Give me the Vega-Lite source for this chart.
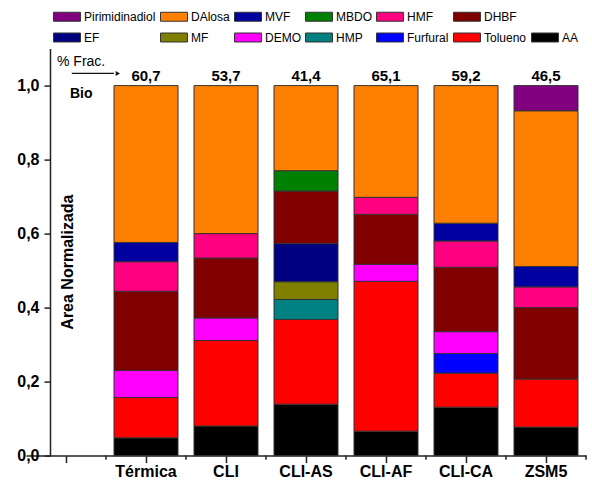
{
  "$schema": "https://vega.github.io/schema/vega-lite/v6.json",
  "width": 536,
  "height": 407,
  "autosize": "none",
  "padding": {"left": 50, "top": 48.6, "right": 6, "bottom": 25.4},
  "config": {
    "view": {"stroke": null},
    "font": "Liberation Sans",
    "axis": {
      "domainColor": "#222", "domainWidth": 1.5, "tickColor": "#222", "tickWidth": 1.5,
      "labelColor": "#000", "labelFont": "Liberation Sans", "labelFontWeight": "bold", "labelFontSize": 16,
      "grid": false, "titleColor": "#000"
    }
  },
  "datasets": {
    "comp": [
      {"cat": "Térmica", "comp": "AA", "area": 0.048},
      {"cat": "Térmica", "comp": "Tolueno", "area": 0.109},
      {"cat": "Térmica", "comp": "DEMO", "area": 0.073},
      {"cat": "Térmica", "comp": "DHBF", "area": 0.214},
      {"cat": "Térmica", "comp": "HMF", "area": 0.080},
      {"cat": "Térmica", "comp": "MVF", "area": 0.052},
      {"cat": "Térmica", "comp": "DAlosa", "area": 0.424},
      {"cat": "CLI", "comp": "AA", "area": 0.080},
      {"cat": "CLI", "comp": "Tolueno", "area": 0.231},
      {"cat": "CLI", "comp": "DEMO", "area": 0.061},
      {"cat": "CLI", "comp": "DHBF", "area": 0.162},
      {"cat": "CLI", "comp": "HMF", "area": 0.066},
      {"cat": "CLI", "comp": "DAlosa", "area": 0.400},
      {"cat": "CLI-AS", "comp": "AA", "area": 0.139},
      {"cat": "CLI-AS", "comp": "Tolueno", "area": 0.229},
      {"cat": "CLI-AS", "comp": "HMP", "area": 0.054},
      {"cat": "CLI-AS", "comp": "MF", "area": 0.048},
      {"cat": "CLI-AS", "comp": "EF", "area": 0.103},
      {"cat": "CLI-AS", "comp": "DHBF", "area": 0.142},
      {"cat": "CLI-AS", "comp": "MBDO", "area": 0.055},
      {"cat": "CLI-AS", "comp": "DAlosa", "area": 0.230},
      {"cat": "CLI-AF", "comp": "AA", "area": 0.066},
      {"cat": "CLI-AF", "comp": "Tolueno", "area": 0.405},
      {"cat": "CLI-AF", "comp": "DEMO", "area": 0.046},
      {"cat": "CLI-AF", "comp": "DHBF", "area": 0.135},
      {"cat": "CLI-AF", "comp": "HMF", "area": 0.046},
      {"cat": "CLI-AF", "comp": "DAlosa", "area": 0.302},
      {"cat": "CLI-CA", "comp": "AA", "area": 0.131},
      {"cat": "CLI-CA", "comp": "Tolueno", "area": 0.092},
      {"cat": "CLI-CA", "comp": "Furfural", "area": 0.053},
      {"cat": "CLI-CA", "comp": "DEMO", "area": 0.059},
      {"cat": "CLI-CA", "comp": "DHBF", "area": 0.174},
      {"cat": "CLI-CA", "comp": "HMF", "area": 0.071},
      {"cat": "CLI-CA", "comp": "MVF", "area": 0.048},
      {"cat": "CLI-CA", "comp": "DAlosa", "area": 0.372},
      {"cat": "ZSM5", "comp": "AA", "area": 0.077},
      {"cat": "ZSM5", "comp": "Tolueno", "area": 0.130},
      {"cat": "ZSM5", "comp": "DHBF", "area": 0.193},
      {"cat": "ZSM5", "comp": "HMF", "area": 0.056},
      {"cat": "ZSM5", "comp": "MVF", "area": 0.055},
      {"cat": "ZSM5", "comp": "DAlosa", "area": 0.421},
      {"cat": "ZSM5", "comp": "Pirimidinadiol", "area": 0.068}
    ],
    "frac": [
      {"cat": "Térmica", "frac": "60,7"},
      {"cat": "CLI", "frac": "53,7"},
      {"cat": "CLI-AS", "frac": "41,4"},
      {"cat": "CLI-AF", "frac": "65,1"},
      {"cat": "CLI-CA", "frac": "59,2"},
      {"cat": "ZSM5", "frac": "46,5"}
    ],
    "notes": [{"frac": "% Frac.", "bio": "Bio"}]
  },
  "layer": [
    {
      "data": {"name": "comp"},
      "transform": [
        {"calculate": "indexof(['AA','Tolueno','Furfural','HMP','DEMO','MF','EF','DHBF','HMF','MBDO','MVF','DAlosa','Pirimidinadiol'], datum.comp)", "as": "stackOrder"}
      ],
      "mark": {"type": "bar", "stroke": "#333", "strokeWidth": 1},
      "encoding": {
        "x": {
          "field": "cat", "type": "nominal",
          "scale": {"domain": ["", "Térmica", "CLI", "CLI-AS", "CLI-AF", "CLI-CA", "ZSM5"], "range": [-24, 536], "paddingInner": 0.2, "paddingOuter": 0.1},
          "axis": {"title": null, "labelAngle": 0, "tickSize": 7, "labelPadding": 1}
        },
        "y": {
          "field": "area", "type": "quantitative", "stack": "zero",
          "scale": {"domain": [0, 1.1], "nice": false},
          "axis": {
            "values": [0, 0.1, 0.2, 0.3, 0.4, 0.5, 0.6, 0.7, 0.8, 0.9, 1.0, 1.1],
            "labelExpr": "round(datum.value*10) % 2 == 0 ? replace(format(datum.value, '.1f'), '.', ',') : ''",
            "tickSize": {"condition": {"test": "round(datum.value*10) % 2 == 1", "value": 3}, "value": 6},
            "labelPadding": 5,
            "title": "Area Normalizada", "titleFontSize": 16, "titleFontWeight": "bold",
            "titleX": 22, "titleY": 213, "titleAngle": -90, "titleBaseline": "alphabetic", "titleAlign": "center"
          }
        },
        "order": {"field": "stackOrder", "type": "quantitative", "sort": "ascending"},
        "color": {
          "field": "comp", "type": "nominal",
          "scale": {
            "domain": ["Pirimidinadiol", "DAlosa", "MVF", "MBDO", "HMF", "DHBF", " ", "EF", "MF", "DEMO", "HMP", "Furfural", "Tolueno", "AA"],
            "range": ["#800080", "#FF8000", "#0000A0", "#008000", "#FF0080", "#800000", "#ffffff", "#000080", "#808000", "#FF00FF", "#008080", "#0000FF", "#FF0000", "#000000"]
          },
          "legend": {
            "orient": "none", "legendX": 3, "legendY": -46.1,
            "title": null, "direction": "horizontal", "columns": 7, "gridAlign": "each",
            "columnPadding": 2, "rowPadding": -12,
            "symbolType": "M-1,-0.333H1V0.333H-1Z", "symbolSize": 729,
            "symbolStrokeWidth": 1, "symbolStrokeColor": "#333",
            "labelFontSize": 12, "labelFont": "Liberation Sans", "labelColor": "#000", "labelOffset": 3,
            "encode": {"symbols": {"update": {"strokeOpacity": {"signal": "datum.value === ' ' ? 0 : 1"}}}}
          }
        }
      }
    },
    {
      "data": {"name": "frac"},
      "mark": {"type": "text", "fontSize": 15, "fontWeight": "bold", "baseline": "alphabetic", "dy": -5, "color": "#000"},
      "encoding": {
        "x": {"field": "cat", "type": "nominal"},
        "y": {"datum": 1.0},
        "text": {"field": "frac"}
      }
    },
    {
      "data": {"name": "frac"},
      "mark": {"type": "rule", "color": "#222", "strokeWidth": 1.5},
      "encoding": {
        "x": {"field": "cat", "type": "nominal", "bandPosition": 1.125},
        "y": {"datum": 0},
        "y2": {"datum": -0.011}
      }
    },
    {
      "data": {"name": "notes"},
      "mark": {"type": "rule", "color": "#222", "strokeWidth": 1.5},
      "encoding": {
        "x": {"datum": "", "bandPosition": 1.125},
        "y": {"datum": 0},
        "y2": {"datum": -0.011}
      }
    },
    {
      "data": {"name": "notes"},
      "mark": {"type": "text", "fontSize": 14, "align": "left", "baseline": "middle", "dx": -9, "dy": 13, "color": "#000"},
      "encoding": {
        "x": {"datum": ""},
        "y": {"datum": 1.1},
        "text": {"field": "frac"}
      }
    },
    {
      "data": {"name": "notes"},
      "mark": {"type": "text", "fontSize": 14, "fontWeight": "bold", "align": "left", "baseline": "middle", "dx": 4, "dy": 8, "color": "#000"},
      "encoding": {
        "x": {"datum": ""},
        "y": {"datum": 1.0},
        "text": {"field": "bio"}
      }
    },
    {
      "data": {"name": "notes"},
      "mark": {"type": "rule", "color": "#111", "strokeWidth": 1.2},
      "encoding": {
        "x": {"datum": "", "bandPosition": 0.59},
        "x2": {"datum": "Térmica", "bandPosition": 0},
        "y": {"datum": 1.033}
      }
    },
    {
      "data": {"name": "notes"},
      "mark": {"type": "point", "shape": "triangle-right", "filled": true, "color": "#111", "size": 25, "opacity": 1},
      "encoding": {
        "x": {"datum": "Térmica", "bandPosition": 0.06},
        "y": {"datum": 1.033}
      }
    }
  ]
}
